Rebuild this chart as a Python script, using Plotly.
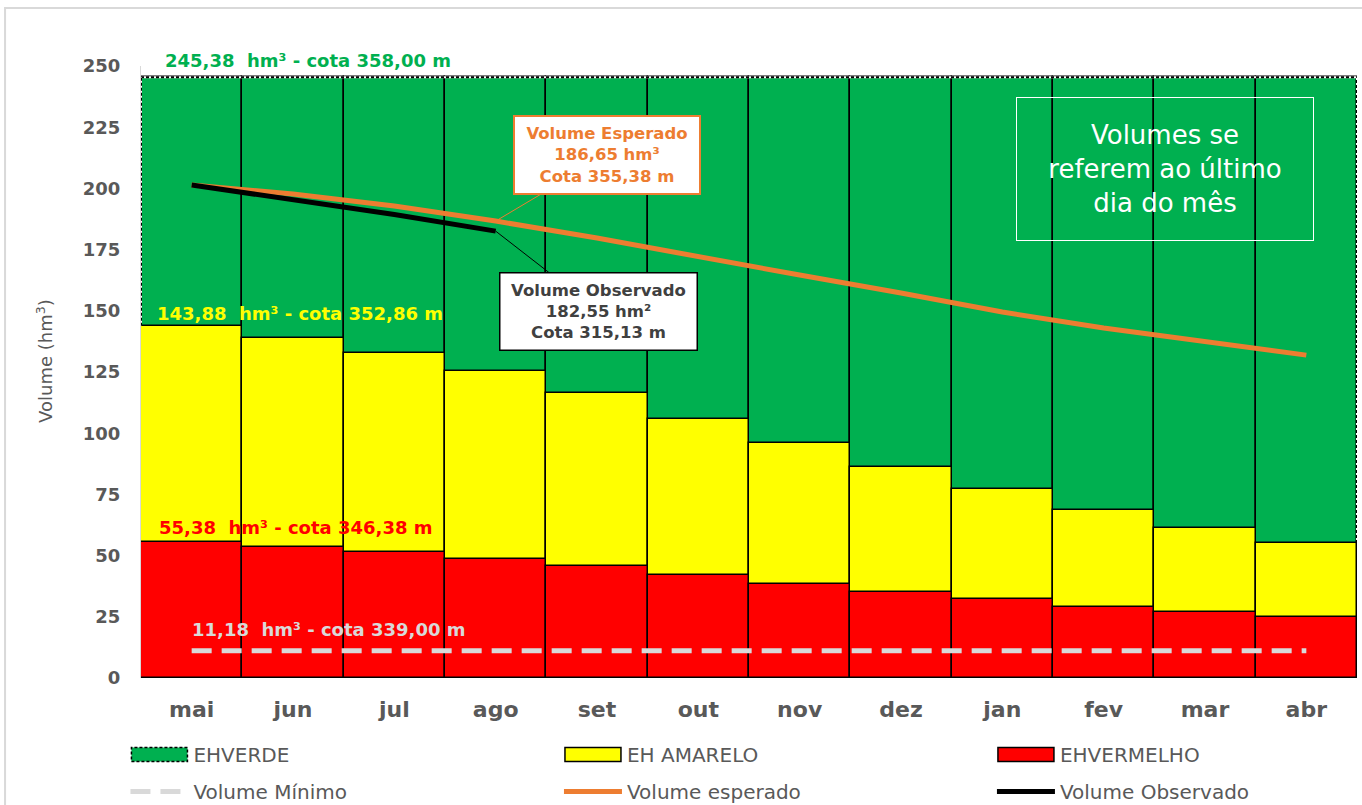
import plotly.graph_objects as go

months = ["mai", "jun", "jul", "ago", "set", "out", "nov", "dez", "jan", "fev", "mar", "abr"]
verde_top = [245.38] * 12
amarelo_top = [143.88, 138.9, 132.8, 125.4, 116.4, 105.8, 96.0, 86.2, 77.2, 68.6, 61.3, 55.1]
vermelho_top = [55.38, 53.5, 51.5, 48.6, 45.8, 42.1, 38.4, 35.1, 32.3, 29.0, 27.0, 24.9]
vol_minimo = [11.18] * 12
vol_esperado = [201.4, 197.7, 192.8, 186.65, 179.7, 172.0, 164.6, 157.3, 149.5, 143.0, 137.3, 131.9]
vol_observado = [201.4, 195.6, 189.3, 182.55]

xi = list(range(len(months)))

GREEN = "#00b050"
YELLOW = "#ffff00"
RED = "#ff0000"
ORANGE = "#ed7d31"
GRAY = "#595959"
LGRAY = "#d9d9d9"
FONT = "'DejaVu Sans', sans-serif"

fig = go.Figure()

fig.add_trace(go.Bar(x=xi, y=verde_top, width=1, name="EHVERDE", marker=dict(color=GREEN, line=dict(color="black", width=1.5)),
                     legend="legend", legendgroup="a", hoverinfo="skip"))
fig.add_trace(go.Bar(x=xi, y=amarelo_top, width=1, name="EH AMARELO", marker=dict(color=YELLOW, line=dict(color="black", width=1.5)),
                     legend="legend2", legendgroup="c", hoverinfo="skip"))
fig.add_trace(go.Bar(x=xi, y=vermelho_top, width=1, name="EHVERMELHO", marker=dict(color=RED, line=dict(color="black", width=1.5)),
                     legend="legend3", legendgroup="e", hoverinfo="skip"))

# dotted outline of the green zone (top and outer edges)
left_edge = xi[0] - 0.5
right_edge = xi[-1] + 0.5
edges = [
    ([left_edge, right_edge], [verde_top[0], verde_top[-1]]),
    ([left_edge, left_edge], [amarelo_top[0], verde_top[0]]),
    ([right_edge, right_edge], [amarelo_top[-1], verde_top[-1]]),
]
for ex, ey in edges:
    fig.add_trace(go.Scatter(x=ex, y=ey, mode="lines", line=dict(color="white", width=2), showlegend=False, hoverinfo="skip"))
    fig.add_trace(go.Scatter(x=ex, y=ey, mode="lines", line=dict(color="black", width=2, dash="3px,2px"), showlegend=False, hoverinfo="skip"))

fig.add_trace(go.Scatter(x=xi, y=vol_minimo, mode="lines", name="Volume Mínimo",
                         line=dict(color=LGRAY, width=5, dash="20px,10px"), legend="legend", legendgroup="b"))
fig.add_trace(go.Scatter(x=xi, y=vol_esperado, mode="lines", name="Volume esperado",
                         line=dict(color=ORANGE, width=5), legend="legend2", legendgroup="d"))
fig.add_trace(go.Scatter(x=xi[:len(vol_observado)], y=vol_observado, mode="lines", name="Volume Observado",
                         line=dict(color="black", width=5), legend="legend3", legendgroup="f"))

annotations = [
    dict(x=-0.079, y=0.518, xref="paper", yref="paper", xanchor="center", yanchor="middle", showarrow=False,
         textangle=-90, text="Volume (hm<sup>3</sup>)", font=dict(family=FONT, size=18, color=GRAY)),
    dict(x=-0.28, y=verde_top[0], xref="x", yref="y", xanchor="left", yanchor="middle", yshift=17, showarrow=False,
         text="245,38  hm³ - cota 358,00 m", font=dict(family=FONT, size=18, color=GREEN, weight="bold")),
    dict(x=-0.36, y=amarelo_top[0], xref="x", yref="y", xanchor="left", yanchor="middle", yshift=12, showarrow=False,
         text="143,88  hm³ - cota 352,86 m", font=dict(family=FONT, size=18, color=YELLOW, weight="bold")),
    dict(x=-0.34, y=vermelho_top[0], xref="x", yref="y", xanchor="left", yanchor="middle", yshift=15, showarrow=False,
         text="55,38  hm³ - cota 346,38 m", font=dict(family=FONT, size=18, color=RED, weight="bold")),
    dict(x=-0.02, y=vol_minimo[0], xref="x", yref="y", xanchor="left", yanchor="middle", yshift=21, showarrow=False,
         text="11,18  hm³ - cota 339,00 m", font=dict(family=FONT, size=18, color=LGRAY, weight="bold")),
    dict(x=3, y=vol_esperado[3], xref="x", yref="y", ax=111, ay=-66, showarrow=True, arrowhead=0, arrowwidth=1,
         arrowcolor=ORANGE, text="Volume Esperado<br>186,65 hm³<br>Cota 355,38 m",
         font=dict(family=FONT, size=16.5, color=ORANGE, weight="bold"), bgcolor="white", bordercolor=ORANGE,
         borderwidth=2, borderpad=3, width=178, height=70, align="center"),
    dict(x=3, y=vol_observado[3], xref="x", yref="y", ax=103, ay=80, showarrow=True, arrowhead=0, arrowwidth=1,
         arrowcolor="black", text="Volume Observado<br>182,55 hm²<br>Cota 315,13 m",
         font=dict(family=FONT, size=16.5, color="#404040", weight="bold"), bgcolor="white", bordercolor="black",
         borderwidth=1.5, borderpad=3, width=190, height=70, align="center"),
    dict(x=0.842, y=0.832, xref="paper", yref="paper", xanchor="center", yanchor="middle", showarrow=False,
         text="Volumes se<br>referem ao último<br>dia do mês", font=dict(family=FONT, size=26, color="white"),
         bordercolor="white", borderwidth=1, width=294, height=140, align="center", valign="middle"),
]

legend_common = dict(orientation="v", xref="container", yref="container", yanchor="top", xanchor="left",
                     itemwidth=58, tracegroupgap=8,
                     font=dict(family=FONT, size=20, color=GRAY), bgcolor="rgba(0,0,0,0)", itemclick=False)

fig.update_layout(
    width=1362, height=805,
    margin=dict(l=141, r=5, t=66, b=127, autoexpand=False),
    paper_bgcolor="white", plot_bgcolor="white",
    barmode="overlay", bargap=0,
    showlegend=True,
    legend=dict(x=0.0921, y=0.087, **legend_common),
    legend2=dict(x=0.4104, y=0.087, **legend_common),
    legend3=dict(x=0.7283, y=0.087, **legend_common),
    xaxis=dict(range=[-0.5, 11.5], tickmode="array", tickvals=xi, ticktext=months, showgrid=False, zeroline=False,
               ticks="", ticklabelstandoff=16,
               tickfont=dict(family=FONT, size=22, color=GRAY, weight="bold")),
    yaxis=dict(range=[0, 250], tick0=0, dtick=25, showgrid=False, zeroline=False, showline=True, linecolor=LGRAY,
               ticks="", ticklabelstandoff=16,
               tickfont=dict(family=FONT, size=18, color=GRAY, weight="bold")),
    annotations=annotations,
    shapes=[dict(type="path", xref="paper", yref="paper", path="M -0.1118 -0.3 L -0.1118 1.0948 L 1.2 1.0948",
                 line=dict(color=LGRAY, width=2))],
)

post = """
document.body.style.margin = '0';
document.body.style.overflow = 'hidden';
var gd = document.getElementById('{plot_id}');
function fixLegendBars(){
  document.querySelectorAll('g.legendpoints path').forEach(function(p){
    var d = p.getAttribute('d') || '';
    if (d.replace(/\\s/g, '') === 'M6,6H-6V-6H6Z' || p.getAttribute('data-wide') === '1') {
      p.setAttribute('d', 'M-28,7H28V-7H-28Z');
      p.setAttribute('data-wide', '1');
      var f = (p.style.fill || '').replace(/\\s/g, '');
      if (f.indexOf('0,176,80') >= 0) { p.style.strokeDasharray = '3,2'; }
    }
  });
}
fixLegendBars();
setTimeout(fixLegendBars, 200);
if (gd && gd.on) { gd.on('plotly_afterplot', fixLegendBars); }
"""

fig.write_html("out.html", post_script=post, config={"displayModeBar": False})
